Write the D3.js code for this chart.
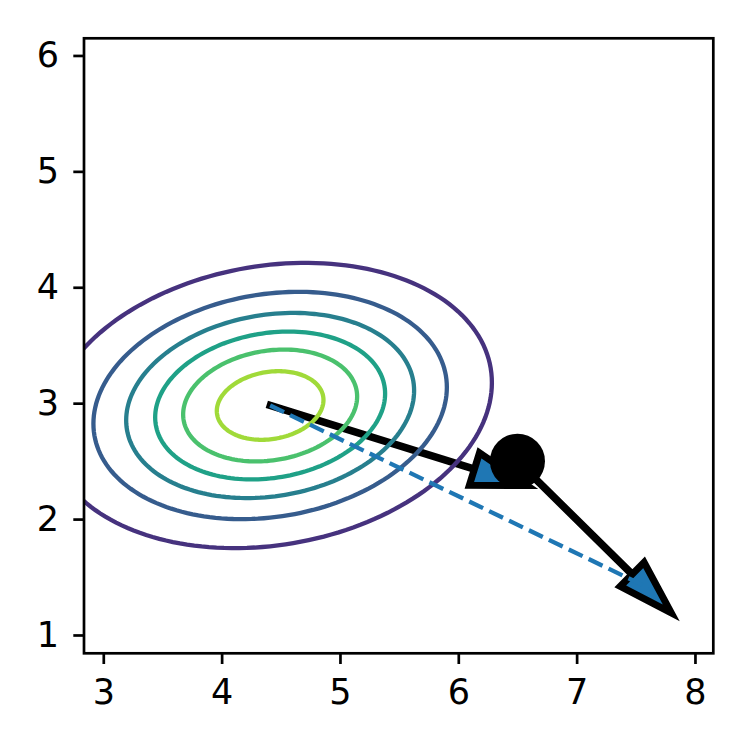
<!DOCTYPE html>
<meta charset="utf-8">
<style>
body { margin: 0; background: #fff; }
text { font-family: "DejaVu Sans", sans-serif; }
</style>
<body>
<script src="https://cdn.jsdelivr.net/npm/d3@7"></script>
<script>

// tick values
var xTicks = [3, 4, 5, 6, 7, 8];
var yTicks = [1, 2, 3, 4, 5, 6];

var mean = [4.41, 2.98];
var sigma = [0.961, 0.631];
var rho = 0.16;
// contour radii in sigma units, outer to inner
var contourRadii = [1.950, 1.554, 1.266, 1.011, 0.765, 0.469];

// arrows, dot and dashed line
var arrowStarts = [[4.41, 2.98], [6.5, 2.5]];
var arrowEnds = [[6.58, 2.29], [7.80, 1.19]];
var dot = [6.5, 2.5];
var dashedLine = [[4.41, 2.98], [7.62, 1.40]];

var margin = {top: 38.3, right: 36.7, bottom: 96.7, left: 84},
    width = 750 - margin.left - margin.right,
    height = 750 - margin.top - margin.bottom;

var x = d3.scaleLinear().domain([2.837, 8.155]).range([0, width]);
var y = d3.scaleLinear().domain([0.842, 6.148]).range([height, 0]);

var svg = d3.select("body").append("svg")
    .attr("width", 750)
    .attr("height", 750)
  .append("g")
    .attr("transform", "translate(" + margin.left + "," + margin.top + ")");

svg.append("clipPath").attr("id", "clip")
  .append("rect").attr("width", width).attr("height", height);

var plot = svg.append("g").attr("clip-path", "url(#clip)");

// arrows (drawn first, below the lines like matplotlib patches)
var headLen = 55, headHalf = 17, shaftHalf = 0.3;
arrowStarts.forEach(function(s, i) {
  var e = arrowEnds[i];
  var x0 = x(s[0]), y0 = y(s[1]), x1 = x(e[0]), y1 = y(e[1]);
  var len = Math.hypot(x1 - x0, y1 - y0);
  var ux = (x1 - x0) / len, uy = (y1 - y0) / len;
  var nx = -uy, ny = ux;
  var bx = x1 - ux * headLen, by = y1 - uy * headLen;
  var pts = [
    [x0 + nx * shaftHalf, y0 + ny * shaftHalf],
    [bx + nx * shaftHalf, by + ny * shaftHalf],
    [bx + nx * headHalf, by + ny * headHalf],
    [x1, y1],
    [bx - nx * headHalf, by - ny * headHalf],
    [bx - nx * shaftHalf, by - ny * shaftHalf],
    [x0 - nx * shaftHalf, y0 - ny * shaftHalf]
  ];
  plot.append("path")
      .attr("d", "M" + pts.join("L") + "Z")
      .attr("fill", "#1f77b4")
      .attr("stroke", "#000")
      .attr("stroke-width", 7)
      .attr("stroke-linejoin", "miter")
      .attr("stroke-miterlimit", 10);
});

// contour ellipses
var angles = d3.range(0, 361, 2).map(function(a) { return a * Math.PI / 180; });
var ellipse = d3.line()
    .x(function(d) { return x(d.x); })
    .y(function(d) { return y(d.y); })
    .curve(d3.curveLinearClosed);

contourRadii.forEach(function(k, i) {
  var pts = angles.map(function(t) {
    return {
      x: mean[0] + k * sigma[0] * Math.cos(t),
      y: mean[1] + k * sigma[1] * (rho * Math.cos(t) + Math.sqrt(1 - rho * rho) * Math.sin(t))
    };
  });
  plot.append("path")
      .attr("d", ellipse(pts))
      .attr("fill", "none")
      .attr("stroke", d3.interpolateViridis((i + 1) / 7))
      .attr("stroke-width", 4.3);
});

// dashed line
plot.append("path")
    .attr("d", d3.line().x(function(d) { return x(d[0]); }).y(function(d) { return y(d[1]); })(dashedLine))
    .attr("fill", "none")
    .attr("stroke", "#1f77b4")
    .attr("stroke-width", 4.3)
    .attr("stroke-dasharray", "15.4,6.7");

// the dot
plot.append("circle")
    .attr("cx", x(dot[0]))
    .attr("cy", y(dot[1]))
    .attr("r", 27.5)
    .attr("fill", "#000");

// axes
var xAxis = svg.append("g")
    .attr("transform", "translate(0," + height + ")")
    .call(d3.axisBottom(x).tickValues(xTicks).tickFormat(d3.format("d")).tickSize(10.7).tickPadding(15));
var yAxis = svg.append("g")
    .call(d3.axisLeft(y).tickValues(yTicks).tickFormat(d3.format("d")).tickSize(10.7).tickPadding(14.4));

[xAxis, yAxis].forEach(function(g) {
  g.select(".domain").remove();
  g.selectAll(".tick line").attr("stroke", "#000").attr("stroke-width", 2.7);
  g.selectAll(".tick text")
      .attr("fill", "#000")
      .style("font-size", "35px")
      .style("font-family", "'DejaVu Sans', sans-serif");
});

// frame
svg.append("rect")
    .attr("width", width)
    .attr("height", height)
    .attr("fill", "none")
    .attr("stroke", "#000")
    .attr("stroke-width", 2.7);

</script>
</body>
